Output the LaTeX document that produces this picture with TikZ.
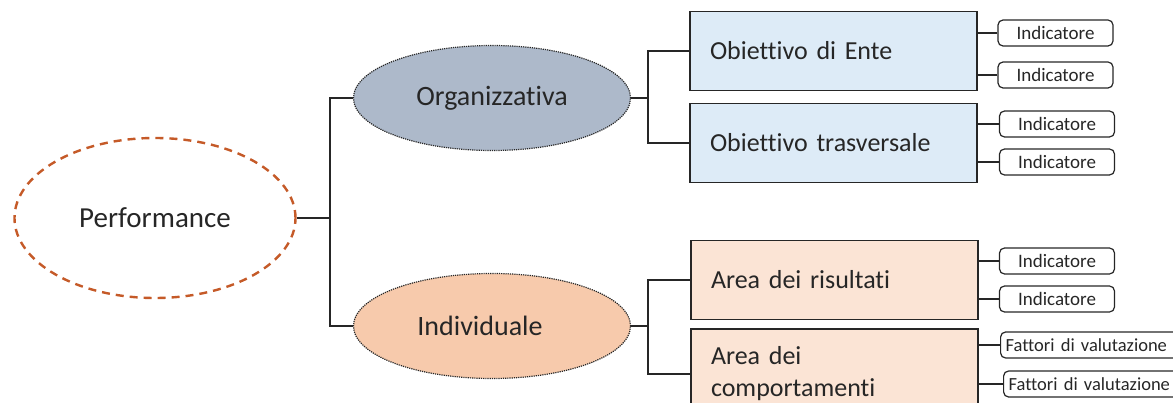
\documentclass[tikz,border=0pt]{standalone}
\usepackage{fontspec}
\setmainfont{Carlito}[Ligatures=NoCommon]
\usetikzlibrary{shapes.geometric,backgrounds}
\definecolor{perfline}{HTML}{C55A28}
\definecolor{orgfill}{HTML}{ADB9CA}
\definecolor{indfill}{HTML}{F7CAAC}
\definecolor{bluebox}{HTML}{DDEBF7}
\definecolor{pinkbox}{HTML}{FBE4D5}
\definecolor{darkline}{HTML}{262626}
\newcommand{\boxthick}{1.6pt}
\tikzset{
  perfoval/.style={ellipse, draw=perfline, dashed, dash pattern=on 8pt off 6pt,
    line width=2.4pt, minimum width=281pt, minimum height=160pt, inner sep=0pt,
    text=darkline, font=\fontsize{29}{32}\selectfont},
  kindoval/.style={ellipse, draw=darkline, densely dotted, line width=1.2pt,
    minimum width=277pt, minimum height=105pt, inner sep=0pt,
    text=darkline, font=\fontsize{28}{32}\selectfont},
  goalbox/.style={rectangle, draw=darkline, line width=\boxthick,
    minimum width=287pt, minimum height=79pt, text width=247pt, inner xsep=20pt,
    align=left, text=darkline, font=\fontsize{26}{32}\selectfont},
  tagbox/.style={rectangle, rounded corners=5pt, draw=darkline, line width=1.2pt,
    minimum width=115pt, minimum height=26pt, inner sep=0pt,
    text=darkline, font=\fontsize{19}{20}\selectfont},
  factorbox/.style={tagbox, minimum width=190pt, text width=180pt, inner xsep=5pt,
    align=left, font=\fontsize{18.5}{20}\selectfont},
  link/.style={draw=darkline, line width=1.8pt}
}

\begin{document}
\begin{tikzpicture}[x=1pt,y=-1pt]
\useasboundingbox (0,0) rectangle (1173,403);
\clip (0,0) rectangle (1173,403);
% ovals
\node[perfoval] (perf) at (155,218) {Performance};
\node[kindoval, fill=orgfill] (org) at (492,98) {Organizzativa};
\node[kindoval, fill=indfill] (ind) at (492,326) {Individuale\hspace*{24pt}};
% goal boxes
\node[goalbox, fill=bluebox] (ente) at (833.5,51) {Obiettivo di Ente};
\node[goalbox, fill=bluebox] (trasv) at (833.5,143) {Obiettivo trasversale};
\node[goalbox, fill=pinkbox] (risult) at (834.5,280) {Area dei risultati};
\node[goalbox, fill=pinkbox, anchor=north, minimum height=90pt, inner ysep=9pt]
  (comport) at (834.5,328) {Area dei\\comportamenti};
% tags
\node[tagbox] (ind1) at (1055.5,33) {Indicatore};
\node[tagbox] (ind2) at (1055.5,75) {Indicatore};
\node[tagbox] (ind3) at (1057,124) {Indicatore};
\node[tagbox] (ind4) at (1057,162) {Indicatore};
\node[tagbox] (ind5) at (1057,261) {Indicatore};
\node[tagbox] (ind6) at (1057,299) {Indicatore};
\node[factorbox, anchor=west] (fat1) at (1000,345) {Fattori di valutazione};
\node[factorbox, anchor=west] (fat2) at (1003,384) {Fattori di valutazione};
% connectors
\coordinate (trunk) at (330,218);
\coordinate (orgfork) at (648,98);
\coordinate (indfork) at (648,326);
\draw[link] (perf.east) -- (trunk) |- (org.west);
\draw[link] (trunk) |- (ind.west);
\draw[link] (org.east) -- (orgfork) |- (ente.west);
\draw[link] (orgfork) |- (trasv.west);
\draw[link] (ind.east) -- (indfork) |- (risult.west);
\draw[link] (indfork) |- (comport.west);
\draw[link] (ind1.west) -- (ind1.west -| ente.east);
\draw[link] (ind2.west) -- (ind2.west -| ente.east);
\draw[link] (ind3.west) -- (ind3.west -| trasv.east);
\draw[link] (ind4.west) -- (ind4.west -| trasv.east);
\draw[link] (ind5.west) -- (ind5.west -| risult.east);
\draw[link] (ind6.west) -- (ind6.west -| risult.east);
\draw[link] (fat1.west) -- (fat1.west -| comport.east);
\draw[link] (fat2.west) -- (fat2.west -| comport.east);
\end{tikzpicture}
\end{document}
